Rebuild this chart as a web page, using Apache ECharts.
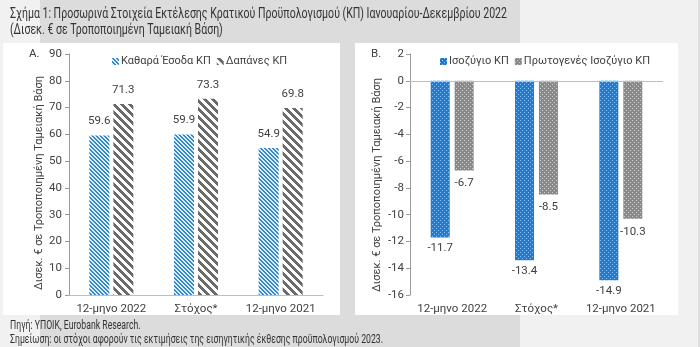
<!DOCTYPE html>
<html><head><meta charset="utf-8">
<script src="https://cdn.jsdelivr.net/npm/echarts@6/dist/echarts.min.js"></script>
<style>html,body{margin:0;padding:0;background:#f1f1f1;}#c{width:700px;height:347px;}</style>
</head><body><div id="c"></div>
<script>
const categories = ['12-μηνο 2022', 'Στόχος*', '12-μηνο 2021'];
const revenue = [59.6, 59.9, 54.9];
const expenditure = [71.3, 73.3, 69.8];
const balance = [-11.7, -13.4, -14.9];
const primaryBalance = [-6.7, -8.5, -10.3];
const leftNames = ['Καθαρά Έσοδα ΚΠ', 'Δαπάνες ΚΠ'];
const rightNames = ['Ισοζύγιο ΚΠ', 'Πρωτογενές Ισοζύγιο ΚΠ'];
const titleLines = ['Σχήμα 1: Προσωρινά Στοιχεία Εκτέλεσης Κρατικού Προϋπολογισμού (ΚΠ) Ιανουαρίου-Δεκεμβρίου 2022', '(Δισεκ. € σε Τροποποιημένη Ταμειακή Βάση)'];
const footLines = ['Πηγή: ΥΠΟΙΚ, Eurobank Research.', 'Σημείωση: οι στόχοι αφορούν τις εκτιμήσεις της εισηγητικής έκθεσης προϋπολογισμού 2023.'];
const axisName = 'Δισεκ. € σε Τροποποιημένη Ταμειακή Βάση';

function hex(c){return [parseInt(c.slice(1,3),16),parseInt(c.slice(3,5),16),parseInt(c.slice(5,7),16)];}
function makePattern(size, fn){
  const cv=document.createElement('canvas'); cv.width=cv.height=size;
  const ctx=cv.getContext('2d'); const img=ctx.createImageData(size,size);
  for(let y=0;y<size;y++)for(let x=0;x<size;x++){
    const col=hex(fn(x,y)); const i=(y*size+x)*4;
    img.data[i]=col[0];img.data[i+1]=col[1];img.data[i+2]=col[2];img.data[i+3]=255;
  }
  ctx.putImageData(img,0,0);
  return {image:cv, repeat:'repeat'};
}
const blueHatch = makePattern(4,(x,y)=>((x-y+8)%4)<2?'#3388d2':'#dcecf9');
const grayHatch = makePattern(8,(x,y)=>((x-y+16)%8)<4?'#6a6a6a':'#ffffff');
const blueDots = makePattern(4,(x,y)=>((x===0&&y===0)||(x===2&&y===2))?'#8cc0ee':'#1f7bd4');
const grayDots = makePattern(4,(x,y)=>((x===0&&y===0)||(x===2&&y===2))?'#cfcfcf':'#8a8a8a');

const font = 'Roboto, "Noto Sans", sans-serif';
const txt = '#404040';

const mctx = document.createElement('canvas').getContext('2d');
function fitScale(text, size, target){ mctx.font = size+'px '+font; return target / mctx.measureText(text).width; }
const titleScale = fitScale(titleLines[0], 14, 497);
const footScale = fitScale(footLines[1], 12, 373);

const chart = echarts.init(document.getElementById('c'), null, {renderer:'canvas'});

function yAxis(gi,min,max,interval,margin){
  return {type:'value',gridIndex:gi,min:min,max:max,interval:interval,
    axisLine:{show:true,lineStyle:{color:'#9a9a9a',width:1}},
    axisTick:{show:true,inside:false,length:4,lineStyle:{color:'#9a9a9a'}},
    splitLine:{show:false},
    axisLabel:{color:txt,fontSize:11.5,fontFamily:font,margin:margin}};
}
function xAxis(gi,showLine){
  return {type:'category',gridIndex:gi,data:categories,
    axisLine:{show:showLine,onZero:false,lineStyle:{color:'#bdbdbd'}},
    axisTick:{show:false},
    axisLabel:{color:txt,fontSize:11.5,fontFamily:font,margin:8,interval:0,hideOverlap:false}};
}
const lbl = (d)=>({show:true,position:'outside',distance:d,color:txt,fontSize:11.5,fontFamily:font,
  formatter:(p)=>p.value.toFixed(1)});

function textEl(x,y,text,size,scale){
  return {type:'text',x:x,y:y,scaleX:scale,style:{text:text,fill:'#333333',font:size+'px '+font,align:'left',verticalAlign:'middle'}};
}

chart.setOption({
  animation:false,
  backgroundColor:'#f1f1f1',
  graphic:[
    {type:'rect',z:-10,shape:{x:40,y:0,width:480,height:347},style:{fill:'#dcdcdc'}},
    {type:'rect',z:-9,shape:{x:3,y:43,width:337,height:272},style:{fill:'#ffffff'}},
    {type:'rect',z:-9,shape:{x:355,y:43,width:323,height:272},style:{fill:'#ffffff'}},
    {type:'rect',z:-9,shape:{x:698,y:0,width:2,height:347},style:{fill:'#dedede'}},
    textEl(10,14,titleLines[0],14,titleScale),
    textEl(10,30,titleLines[1],14,titleScale),
    textEl(10,326,footLines[0],12,footScale),
    textEl(10,340,footLines[1],12,footScale),
    {type:'text',left:29,top:48,style:{text:'A.',fill:txt,font:'11.5px '+font}},
    {type:'text',left:371,top:48,style:{text:'B.',fill:txt,font:'11.5px '+font}},
    {type:'text',x:39,y:183,rotation:Math.PI/2,style:{text:axisName,fill:txt,font:'11px '+font,align:'center',verticalAlign:'middle'}},
    {type:'text',x:377,y:185,rotation:Math.PI/2,style:{text:axisName,fill:txt,font:'11px '+font,align:'center',verticalAlign:'middle'}}
  ],
  legend:[
    {data:leftNames,left:107,top:51,itemWidth:7,itemHeight:7,itemGap:6,icon:'rect',
      textStyle:{color:txt,fontSize:11,fontFamily:font,padding:[0,0,0,-3]}},
    {data:rightNames,left:435,top:51,itemWidth:7,itemHeight:7,itemGap:6,icon:'rect',
      textStyle:{color:txt,fontSize:11,fontFamily:font,padding:[0,0,0,-3]}}
  ],
  grid:[
    {left:69,top:54,width:254,height:241},
    {left:410,top:54,width:253,height:241}
  ],
  xAxis:[xAxis(0,true),xAxis(1,false)],
  yAxis:[yAxis(0,0,90,10,7),yAxis(1,-16,2,2,6)],
  series:[
    {name:leftNames[0],type:'bar',xAxisIndex:0,yAxisIndex:0,data:revenue,barWidth:20,barGap:'20%',
      itemStyle:{color:blueHatch},label:lbl(8)},
    {name:leftNames[1],type:'bar',xAxisIndex:0,yAxisIndex:0,data:expenditure,barWidth:20,barGap:'20%',
      itemStyle:{color:grayHatch},label:lbl(8)},
    {name:rightNames[0],type:'bar',xAxisIndex:1,yAxisIndex:1,data:balance,barWidth:19,barGap:'26%',
      itemStyle:{color:blueDots},label:lbl(5),
      markLine:{silent:true,symbol:'none',label:{show:false},lineStyle:{color:'#bdbdbd',type:'solid',width:1},data:[{yAxis:0}]}},
    {name:rightNames[1],type:'bar',xAxisIndex:1,yAxisIndex:1,data:primaryBalance,barWidth:19,barGap:'26%',
      itemStyle:{color:grayDots},label:lbl(7)}
  ]
});
</script></body></html>
